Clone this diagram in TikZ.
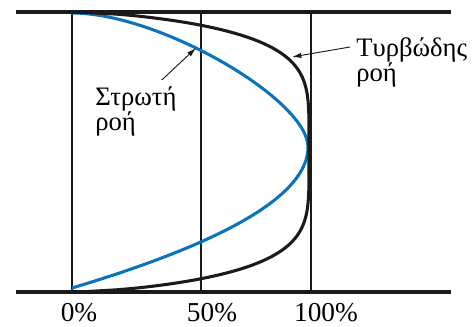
\documentclass[tikz,border=0pt]{standalone}
\usepackage{fontspec}
\setmainfont{Liberation Serif}
\usepackage{xcolor}
\usepackage{tikz}
\usetikzlibrary{arrows.meta,positioning}
\definecolor{FlowBlue}{HTML}{0A74BA}
\definecolor{FlowInk}{HTML}{1A1A1A}

\begin{document}
\begin{tikzpicture}[x=0.75pt, y=-0.75pt, every node/.style={font=\fontsize{20}{17.5}\selectfont}, wall/.style={line width=3.2pt,FlowInk}, guide/.style={line width=1.1pt,FlowInk}, prof/.style={line width=2.3pt}, lbl/.style={align=left,inner sep=0pt,anchor=north west}, pct/.style={anchor=base,font=\fontsize{20.5}{20}\selectfont}, a/.style={-{Latex[length=7pt,width=4pt]},line width=0.7pt,FlowInk}]
\useasboundingbox (0,0) rectangle (476,327);
\foreach \x in {72,201,311} \draw[guide] (\x,12) -- (\x,292);
% laminar profile
\draw[prof,FlowBlue] (72,13) .. controls (160,13) and (308,100) .. (308,147)
  .. controls (308,194) and (229,241) .. (72,288);
% turbulent profile
\draw[prof,FlowInk,domain=-0.9995:0.9995,samples=141,smooth] plot ({72+237*(1-abs(\x)^5)^0.65},{152+140*\x});
\draw[wall] (16,12) -- (451,12);
\draw[wall] (16,292) -- (451,292);
\coordinate (lamtip) at (196,48);
\coordinate (turbtip) at (292,57);
\node[lbl] (lam) at (95,86) {Στρωτή\\ροή};
\node[lbl] (turb) at (356,37) {Τυρβώδης\\ροή};
\draw[a] ([shift={(-15,-6)}]lam.north east) -- (lamtip);
\draw[a] ([shift={(-6,10)}]turb.north west) -- (turbtip);
\foreach \p/\x in {0/79,50/212,100/326} \node[pct] (p\p) at (\x,322) {\p\%};
\end{tikzpicture}
\end{document}
